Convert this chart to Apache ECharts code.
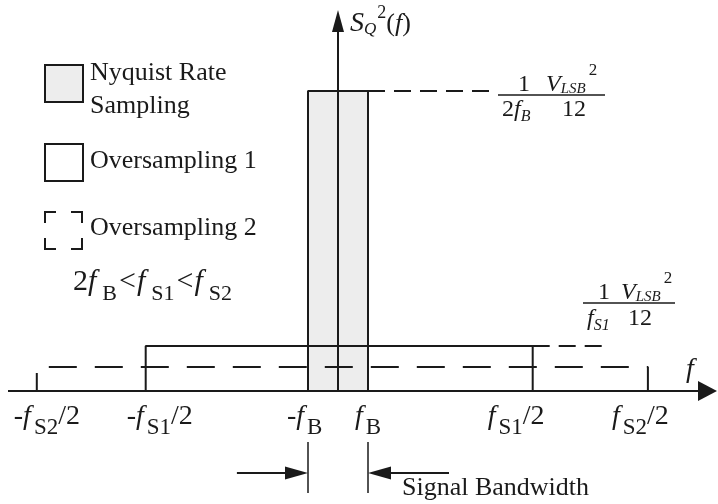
<!DOCTYPE html>
<html>
<head>
<meta charset="utf-8">
<title>Quantization noise spectrum</title>
<script src="https://cdn.jsdelivr.net/npm/echarts@6.0.0/dist/echarts.min.js"></script>
<style>
html, body { margin: 0; padding: 0; background: #fff; }
#chart { width: 718px; height: 504px; }
</style>
</head>
<body>
<div id="chart"></div>
<script>
// ---- Data: band edges (frequency in units of f_B) and noise density levels ----
const nyquistEdges = [-1, 1];
const nyquistLevel = 10;
const os1Edges = [-6.41, 6.49];
const os1Level = 1.5;
const os2Edges = [-10.04, 10.33];
const os2Level = 0.8;

// Frequency-axis tick positions and their labels, as runs of [text, style]
const tickValues = [-10.04, -6.41, -1, 1, 6.49, 10.33];
const tickLabels = [
  [['-', 'r'], ['f', 'i'], ['S2', 'sub'], ['/2', 'r']],
  [['-', 'r'], ['f', 'i'], ['S1', 'sub'], ['/2', 'r']],
  [['-', 'r'], ['f', 'i'], ['B', 'sub']],
  [['f', 'i'], ['B', 'sub']],
  [['f', 'i'], ['S1', 'sub'], ['/2', 'r']],
  [['f', 'i'], ['S2', 'sub'], ['/2', 'r']]
];
const legendLabels = [['Nyquist Rate', 'Sampling'], ['Oversampling 1'], ['Oversampling 2']];

// ---- Layout and styling ----
const INK = '#1a1a1a';
const FILL = '#ededed';
const SERIF = '"Liberation Serif", "Times New Roman", serif';
const PX = 30;                       // pixels per unit on both axes
const X_MIN = -11, X_MAX = 12.6667;
const Y_MIN = -3.7667, Y_MAX = 12.7;
const tickNudge = [-23, -19, -21, -13, -45, -36];   // label start relative to tick, px

const chart = echarts.init(document.getElementById('chart'), null, { renderer: 'canvas' });

function rectPath(edges, level) {
  return [[edges[0], 0], [edges[0], level], [edges[1], level], [edges[1], 0]];
}
const u = (pixels) => pixels / PX;   // pixel length -> axis units

// a straight guide between two data points
function seg(a, b, lineStyle, endSymbol, endSize) {
  const s = { coord: b };
  if (endSymbol) { s.symbol = endSymbol; s.symbolSize = endSize; }
  return [{ coord: a, lineStyle: lineStyle, symbol: 'none' }, s];
}

const solid = { color: INK, width: 2, type: 'solid' };
const leader = { color: INK, width: 2, type: [17, 9] };
const thin = { color: INK, width: 1.5, type: 'solid' };

const fB = nyquistEdges[1];
const bwY = -2.73;                   // level of the signal-bandwidth arrows
const guides = [
  // frequency axis with arrow head
  seg([X_MIN, 0], [X_MAX - u(1) - u(9.5), 0], solid, 'triangle', [20, 19]),
  // density axis with arrow head
  seg([0, 0], [0, Y_MAX - u(11)], solid, 'triangle', [12, 22]),
  // level leaders
  seg([nyquistEdges[1], nyquistLevel], [5.33, nyquistLevel], leader),
  seg([os1Edges[1], os1Level], [8.8, os1Level], leader),
  // signal bandwidth markers
  seg([-fB, -1.7], [-fB, -3.4], thin),
  seg([fB, -1.7], [fB, -3.4], thin),
  seg([-3.37, bwY], [-fB - u(11.5), bwY], solid, 'triangle', [13, 23]),
  seg([3.7, bwY], [fB + u(11.5), bwY], solid, 'triangle', [13, 23])
];

chart.setOption({
  animation: false,
  backgroundColor: '#ffffff',
  grid: { left: 8, right: 0, top: 10, bottom: 0 },
  xAxis: { type: 'value', min: X_MIN, max: X_MAX, show: false },
  yAxis: { type: 'value', min: Y_MIN, max: Y_MAX, show: false },
  series: [
    {
      name: 'Nyquist Rate Sampling', type: 'line', z: 2,
      data: rectPath(nyquistEdges, nyquistLevel),
      symbol: 'none', silent: true,
      lineStyle: { color: INK, width: 2 },
      areaStyle: { color: FILL, opacity: 1 }
    },
    {
      name: 'Oversampling 1', type: 'line', z: 3,
      data: rectPath(os1Edges, os1Level),
      symbol: 'none', silent: true,
      lineStyle: { color: INK, width: 2 }
    },
    {
      name: 'Oversampling 2', type: 'line', z: 3,
      data: rectPath(os2Edges, os2Level),
      symbol: 'none', silent: true,
      lineStyle: { color: INK, width: 2, type: [28, 18], dashOffset: 10 }
    },
    {
      name: 'guides', type: 'line', z: 4,
      data: [[0, 0]], symbol: 'none', silent: true,
      lineStyle: { width: 0 },
      markLine: {
        silent: true, animation: false, precision: 4,
        symbol: ['none', 'none'],
        label: { show: false },
        emphasis: { disabled: true },
        data: guides
      }
    }
  ]
});

// ---- Text runs (math-style labels with sub/superscripts) ----
const measureCtx = document.createElement('canvas').getContext('2d');
function fontOf(st) { return (st.italic ? 'italic ' : '') + st.size + 'px ' + SERIF; }

function runs(x, base, parts, styles) {
  const els = [];
  let cx = x;
  parts.forEach(([t, name]) => {
    const st = styles[name];
    const f = fontOf(st);
    cx += st.pre || 0;
    measureCtx.font = f;
    els.push({
      type: 'text', silent: true, z: 10,
      style: {
        text: t, x: cx, y: base + (st.dy || 0) - 0.34 * st.size,
        font: f, fill: INK,
        align: 'left', verticalAlign: 'middle',
        textAlign: 'left', textVerticalAlign: 'middle'
      }
    });
    cx += measureCtx.measureText(t).width + (st.post || 0);
  });
  return els;
}

const tickStyles = {
  r: { size: 28 },
  i: { size: 28, italic: true, post: 3 },
  sub: { size: 23, dy: 10 }
};
const fracStyles = {
  r: { size: 24 },
  i: { size: 24, italic: true },
  isub: { size: 15, italic: true, dy: 1 },
  bsub: { size: 16, italic: true, dy: 4 },
  sup: { size: 17, dy: -17, pre: 3 }
};
const bodyStyles = {
  r: { size: 26 },
  i: { size: 26, italic: true },
  big: { size: 30 },
  lt: { size: 30, pre: 1, post: 1 },
  bigi: { size: 30, italic: true, post: 6 },
  bsub: { size: 22, dy: 10, post: 1 },
  S: { size: 28, italic: true },
  Qsub: { size: 17, italic: true, dy: 2 },
  sup2: { size: 18, dy: -14, pre: 1 }
};

let graphics = [];

// tick labels along the frequency axis
tickValues.forEach((v, k) => {
  const x = chart.convertToPixel({ xAxisIndex: 0 }, v) + tickNudge[k];
  graphics = graphics.concat(runs(x, 426, tickLabels[k], tickStyles));
});

// axis titles
graphics = graphics.concat(runs(350, 33, [['S', 'S'], ['Q', 'Qsub'], ['2', 'sup2'], ['(', 'r'], ['f', 'i'], [')', 'r']], bodyStyles));
graphics = graphics.concat(runs(686, 379, [['f', 'i']], { i: { size: 28, italic: true } }));

// level annotations: (1 / 2f_B)(V_LSB^2 / 12) and (1 / f_S1)(V_LSB^2 / 12)
graphics = graphics.concat(
  runs(518, 93, [['1', 'r']], fracStyles),
  runs(546, 93, [['V', 'i'], ['LSB', 'isub'], ['2', 'sup']], fracStyles),
  runs(502, 118, [['2', 'r'], ['f', 'i'], ['B', 'bsub']], fracStyles),
  runs(562, 118, [['12', 'r']], fracStyles),
  runs(598, 301, [['1', 'r']], fracStyles),
  runs(621, 301, [['V', 'i'], ['LSB', 'isub'], ['2', 'sup']], fracStyles),
  runs(587, 327, [['f', 'i'], ['S1', 'bsub']], fracStyles),
  runs(628, 327, [['12', 'r']], fracStyles)
);
graphics.push(
  { type: 'line', silent: true, z: 10, shape: { x1: 498, y1: 95, x2: 605, y2: 95 }, style: { stroke: INK, lineWidth: 1.5 } },
  { type: 'line', silent: true, z: 10, shape: { x1: 583, y1: 303, x2: 675, y2: 303 }, style: { stroke: INK, lineWidth: 1.5 } }
);

// legend
graphics.push(
  { type: 'rect', silent: true, z: 10, shape: { x: 45, y: 65, width: 38, height: 37 }, style: { fill: FILL, stroke: INK, lineWidth: 2 } },
  { type: 'rect', silent: true, z: 10, shape: { x: 45, y: 144, width: 38, height: 37 }, style: { fill: '#fff', stroke: INK, lineWidth: 2 } },
  { type: 'rect', silent: true, z: 10, shape: { x: 45, y: 212, width: 37, height: 37 }, style: { fill: '#fff', stroke: INK, lineWidth: 2, lineDash: [22, 15], lineDashOffset: 11 } }
);
graphics = graphics.concat(
  runs(90, 82, [[legendLabels[0][0], 'r']], bodyStyles),
  runs(90, 115, [[legendLabels[0][1], 'r']], bodyStyles),
  runs(90, 170, [[legendLabels[1][0], 'r']], bodyStyles),
  runs(90, 237, [[legendLabels[2][0], 'r']], bodyStyles),
  runs(73, 292, [['2', 'big'], ['f', 'bigi'], ['B', 'bsub'], ['<', 'lt'], ['f', 'bigi'], ['S1', 'bsub'], ['<', 'lt'], ['f', 'bigi'], ['S2', 'bsub']], bodyStyles),
  runs(402, 497, [['Signal Bandwidth', 'r']], bodyStyles)
);

chart.setOption({ graphic: { elements: graphics } });
</script>
</body>
</html>
